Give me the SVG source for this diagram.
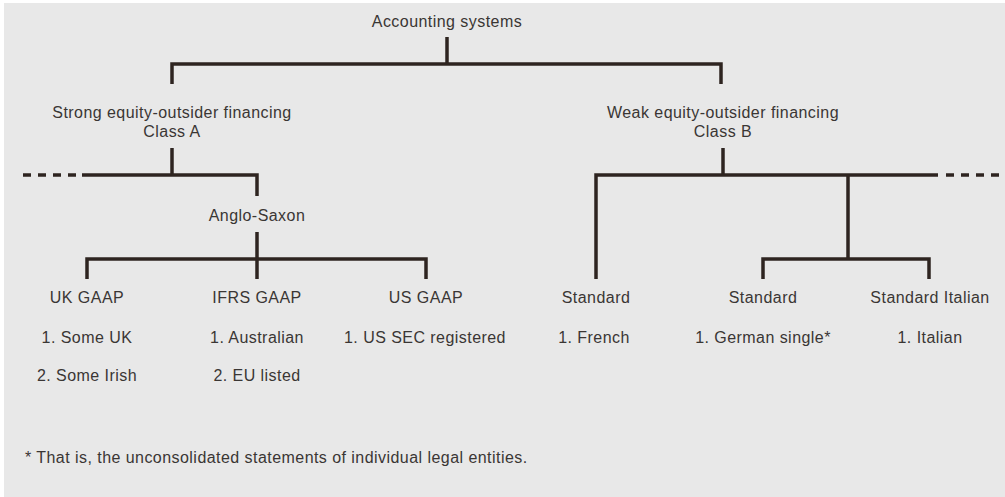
<svg xmlns="http://www.w3.org/2000/svg" width="1005" height="497" viewBox="0 0 1005 497">
<style>
  text { font-family: "Liberation Sans", Arial, sans-serif; font-size: 16px; fill: #3a3634; text-anchor: middle; letter-spacing: 0.45px; }
  .ln { stroke: #2e2420; stroke-width: 3.5; fill: none; stroke-linecap: butt; stroke-linejoin: miter; }
  .dash { stroke: #2e2420; stroke-width: 3.5; fill: none; stroke-dasharray: 8 7; }
</style>
<rect x="0" y="0" width="1005" height="497" fill="#ffffff"/>
<rect x="4" y="3" width="1001" height="494" fill="#e8e8e8"/>

<g id="connectors">
  <path class="ln" d="M447 37 V64"/>
  <path class="ln" d="M172 84 V64 H721 V84"/>
  <path class="ln" d="M172 148 V175"/>
  <path class="ln" d="M82 175 H257 V196"/>
  <path class="dash" d="M23 175 H76"/>
  <path class="ln" d="M257 232 V279"/>
  <path class="ln" d="M87 279 V259 H426 V279"/>
  <path class="ln" d="M723 148 V175"/>
  <path class="ln" d="M596 279 V175 H938"/>
  <path class="dash" d="M946 175 H1000"/>
  <path class="ln" d="M848 175 V259"/>
  <path class="ln" d="M763 279 V259 H929 V279"/>
</g>

<g id="root"><text x="447" y="27">Accounting systems</text></g>
<g id="classA"><text x="172" y="118">Strong equity-outsider financing</text><text x="172" y="137">Class A</text></g>
<g id="classB"><text x="723" y="118">Weak equity-outsider financing</text><text x="723" y="137">Class B</text></g>
<g id="anglo"><text x="257" y="221">Anglo-Saxon</text></g>
<g id="ukgaap"><text x="87" y="303">UK GAAP</text><text x="87" y="343">1. Some UK</text><text x="87" y="381">2. Some Irish</text></g>
<g id="ifrs"><text x="257" y="303">IFRS GAAP</text><text x="257" y="343">1. Australian</text><text x="257" y="381">2. EU listed</text></g>
<g id="usgaap"><text x="426" y="303">US GAAP</text><text x="425" y="343">1. US SEC registered</text></g>
<g id="french"><text x="596" y="303">Standard</text><text x="594" y="343">1. French</text></g>
<g id="german"><text x="763" y="303">Standard</text><text x="763" y="343">1. German single*</text></g>
<g id="italian"><text x="930" y="303">Standard Italian</text><text x="930" y="343">1. Italian</text></g>
<g id="footnote"><text x="25" y="463" style="text-anchor:start">* That is, the unconsolidated statements of individual legal entities.</text></g>
</svg>
